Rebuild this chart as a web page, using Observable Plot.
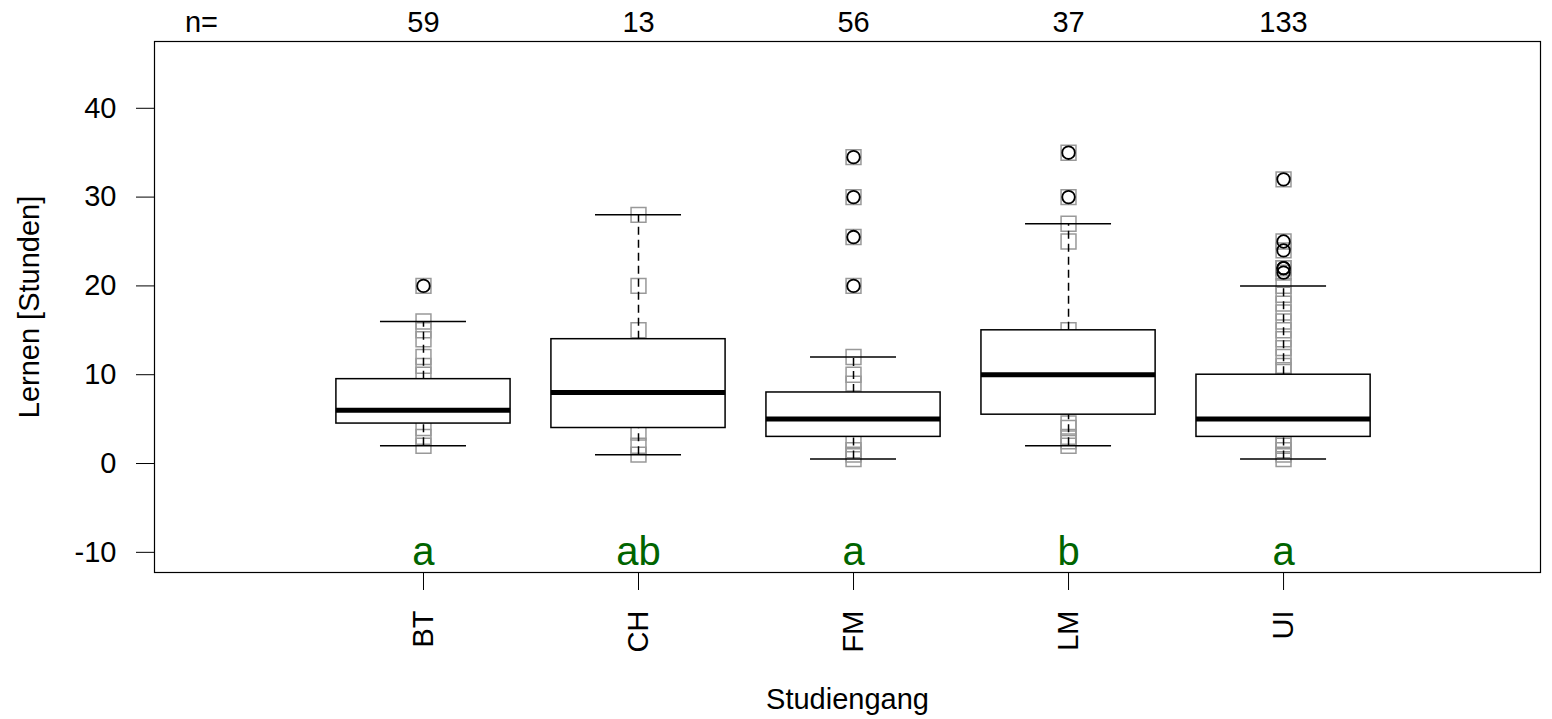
<!DOCTYPE html>
<html>
<head>
<meta charset="utf-8">
<script src="https://cdn.jsdelivr.net/npm/d3@7"></script>
<script src="https://cdn.jsdelivr.net/npm/@observablehq/plot@0.6"></script>
<style>
  html, body { margin: 0; padding: 0; background: #fff; }
  #chart svg { display: block; }
</style>
</head>
<body>
<div id="chart"></div>
<script>
// ---- data ----
const groups = ["BT", "CH", "FM", "LM", "UI"];
const counts = [59, 13, 56, 37, 133];
const letters = ["a", "ab", "a", "b", "a"];
const whiskerLow  = [2, 1, 0.5, 2, 0.5];
const quart1      = [4.5, 4, 3, 5.5, 3];
const medians     = [6, 8, 5, 10, 5];
const quart3      = [9.5, 14, 8, 15, 10];
const whiskerHigh = [16, 28, 12, 27, 20];

const outliersBT = [20];
const outliersCH = [];
const outliersFM = [20, 25.5, 30, 34.5];
const outliersLM = [30, 35];
const outliersUI = [21.5, 22, 22, 24, 25, 32];

const pointsBT = [20, 16, 15, 14, 12, 11, 10, 4, 3, 2];
const pointsCH = [28, 20, 15, 3.5, 2, 1];
const pointsFM = [34.5, 30, 25.5, 20, 12, 10, 9, 2.5, 1.5, 1, 0.5];
const pointsLM = [35, 30, 27, 25, 15, 4.5, 4, 3, 2.5, 2];
const pointsUI = [32, 25, 24, 22, 22, 21.5, 20, 19, 18, 17, 16, 15, 14, 13, 12, 11, 10.5, 2.5, 2, 1.5, 1, 0.5];

const yTicks = [-10, 0, 10, 20, 30, 40];
const letterY = -10;

// ---- build tables ----
const boxes = groups.map((g, i) => ({
  g, x: i + 1, lo: whiskerLow[i], q1: quart1[i], med: medians[i],
  q3: quart3[i], hi: whiskerHigh[i], n: counts[i], letter: letters[i]
}));
const pointLists = [pointsBT, pointsCH, pointsFM, pointsLM, pointsUI];
const outlierLists = [outliersBT, outliersCH, outliersFM, outliersLM, outliersUI];
const points = pointLists.flatMap((arr, i) => arr.map(v => ({x: i + 1, y: v})));
const outliers = outlierLists.flatMap((arr, i) => arr.map(v => ({x: i + 1, y: v})));

const HW = 0.405; // box half width
const SW = 0.2;   // staple half width

const chart = Plot.plot({
  width: 1552,
  height: 719,
  marginTop: 41,
  marginBottom: 147,
  marginLeft: 154,
  marginRight: 12,
  style: {fontFamily: "'Liberation Sans', Arial, sans-serif", fontSize: "29px", color: "#000", background: "#fff"},
  x: {type: "linear", domain: [-0.251, 6.195], axis: null},
  y: {domain: [-12.27, 47.52], axis: null},
  marks: [
    Plot.dot(points, {x: "x", y: "y", symbol: "square", r: 8.4, stroke: "#999", strokeWidth: 1.5, fill: "none"}),
    Plot.ruleX(boxes, {x: "x", y1: "q3", y2: "hi", stroke: "#000", strokeWidth: 1.5, strokeDasharray: "8,5"}),
    Plot.ruleX(boxes, {x: "x", y1: "lo", y2: "q1", stroke: "#000", strokeWidth: 1.5, strokeDasharray: "8,5"}),
    Plot.ruleY(boxes, {y: "hi", x1: d => d.x - SW, x2: d => d.x + SW, stroke: "#000", strokeWidth: 1.5}),
    Plot.ruleY(boxes, {y: "lo", x1: d => d.x - SW, x2: d => d.x + SW, stroke: "#000", strokeWidth: 1.5}),
    Plot.rect(boxes, {x1: d => d.x - HW, x2: d => d.x + HW, y1: "q1", y2: "q3", fill: "white", stroke: "#000", strokeWidth: 1.5}),
    Plot.ruleY(boxes, {y: "med", x1: d => d.x - HW, x2: d => d.x + HW, stroke: "#000", strokeWidth: 5}),
    Plot.dot(outliers, {x: "x", y: "y", r: 6.3, stroke: "#000", strokeWidth: 1.8, fill: "none"}),
    Plot.frame({stroke: "#000", strokeWidth: 1.2}),
    Plot.axisY({ticks: yTicks, tickSize: 18, tickPadding: 20, tickFormat: d => String(d), fontSize: 29, label: null, stroke: "#000", fill: "#000"}),
    Plot.axisX({ticks: [1, 2, 3, 4, 5], tickSize: 18, tickFormat: () => "", label: null, stroke: "#000"}),
    Plot.text(boxes, {x: "x", text: "g", frameAnchor: "bottom", dy: 38, rotate: -90, textAnchor: "end", lineAnchor: "middle", fontSize: 29, fill: "#000"}),
    Plot.text(boxes, {x: "x", y: () => letterY, text: "letter", lineAnchor: "middle", fill: "#006400", fontSize: 40}),
    Plot.text(boxes, {x: "x", text: d => String(d.n), frameAnchor: "top", dy: -18.5, lineAnchor: "middle", fontSize: 29, fill: "#000"}),
    Plot.text(["n="], {frameAnchor: "top-left", dx: 47, dy: -18.5, textAnchor: "middle", lineAnchor: "middle", fontSize: 29, fill: "#000"}),
    Plot.text(["Lernen [Stunden]"], {frameAnchor: "left", dx: -125, rotate: -90, textAnchor: "middle", lineAnchor: "middle", fontSize: 29, fill: "#000"}),
    Plot.text(["Studiengang"], {frameAnchor: "bottom", dy: 127, textAnchor: "middle", lineAnchor: "middle", fontSize: 29, fill: "#000"})
  ]
});
document.getElementById("chart").appendChild(chart);
</script>
</body>
</html>
